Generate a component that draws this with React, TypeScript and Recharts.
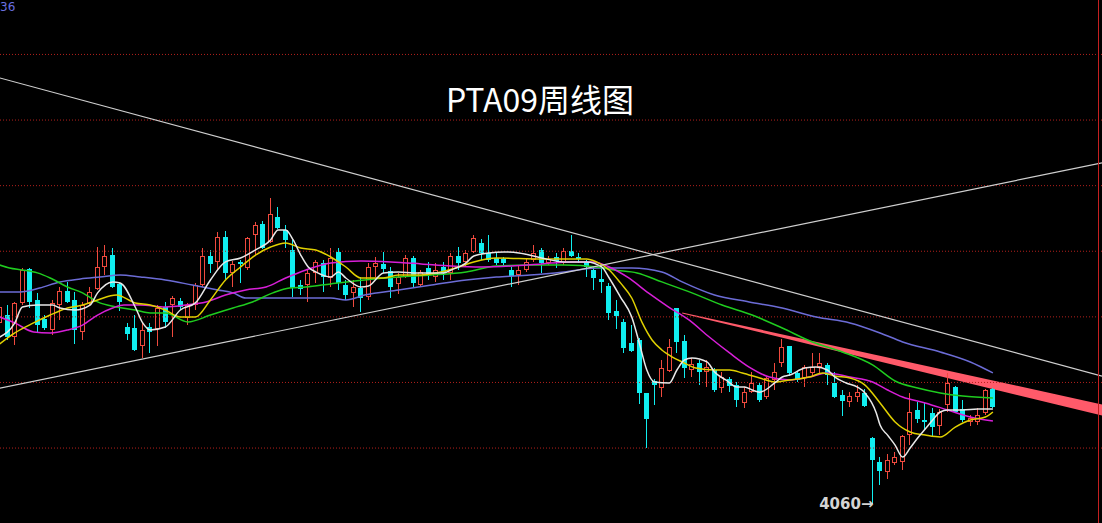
import { Area, Bar, ComposedChart, Line, ReferenceDot, ReferenceLine, XAxis, YAxis } from "recharts";

// weekly candles, PTA09 (oldest first)
const opens = [
  5163, 5211, 5077, 5285, 5492, 5303, 5187, 5120, 5272, 5358, 5303, 5108, 5279, 5370, 5504, 5577, 5401, 5138, 5132, 5022,
  5138, 5126, 5260, 5272, 5297, 5193, 5272, 5394, 5571, 5535, 5687, 5468, 5535, 5498, 5700, 5767, 5657, 5809, 5730, 5608,
  5394, 5394, 5468, 5529, 5437, 5596, 5394, 5346, 5376, 5321, 5504, 5523, 5480, 5401, 5443, 5559, 5394, 5498, 5443, 5504,
  5468, 5571, 5535, 5596, 5651, 5590, 5559, 5553, 5486, 5455, 5486, 5547, 5608, 5529, 5565, 5529, 5602, 5565, 5535, 5486,
  5431, 5388, 5236, 5169, 5041, 5059, 4736, 4809, 4766, 4870, 5254, 5053, 4876, 4919, 4864, 4876, 4766, 4821, 4784, 4675,
  4741, 4784, 4711, 4815, 4919, 5022, 4858, 4827, 4858, 4894, 4907, 4797, 4723, 4681, 4711, 4736, 4461, 4315, 4254, 4309,
  4315, 4479, 4632, 4571, 4614, 4534, 4662, 4772, 4638, 4559, 4559, 4614, 4760,
];
const highs = [
  5285, 5272, 5291, 5498, 5498, 5346, 5211, 5303, 5382, 5413, 5352, 5291, 5382, 5626, 5638, 5620, 5407, 5163, 5211, 5169,
  5163, 5272, 5291, 5327, 5315, 5285, 5407, 5620, 5608, 5718, 5724, 5541, 5547, 5687, 5779, 5785, 5925, 5870, 5760, 5669,
  5425, 5486, 5547, 5547, 5620, 5620, 5425, 5425, 5443, 5529, 5565, 5596, 5504, 5468, 5577, 5571, 5486, 5535, 5529, 5535,
  5590, 5626, 5608, 5700, 5675, 5700, 5590, 5565, 5504, 5516, 5559, 5638, 5620, 5571, 5590, 5620, 5700, 5590, 5547, 5504,
  5498, 5407, 5303, 5187, 5150, 5071, 4736, 4821, 4937, 5065, 5254, 5089, 4949, 4937, 4937, 4888, 4864, 4833, 4803, 4772,
  4864, 4797, 4833, 4919, 5065, 5022, 4864, 4907, 4980, 4980, 4919, 4864, 4754, 4741, 4784, 4760, 4467, 4345, 4364, 4376,
  4479, 4736, 4681, 4675, 4644, 4638, 4858, 4778, 4693, 4602, 4644, 4760, 4766,
];
const lows = [
  5132, 5059, 5028, 5272, 5254, 5102, 5120, 5089, 5181, 5285, 5035, 5059, 5272, 5364, 5455, 5376, 5236, 5059, 4992, 4949,
  4980, 5022, 5132, 5077, 5242, 5150, 5242, 5382, 5468, 5486, 5431, 5382, 5407, 5486, 5577, 5614, 5651, 5736, 5620, 5321,
  5333, 5291, 5407, 5352, 5382, 5364, 5303, 5260, 5230, 5303, 5443, 5468, 5315, 5340, 5437, 5382, 5382, 5425, 5413, 5425,
  5425, 5486, 5504, 5590, 5547, 5535, 5516, 5504, 5382, 5394, 5474, 5535, 5468, 5516, 5498, 5516, 5565, 5529, 5443, 5364,
  5346, 5181, 5126, 4980, 4986, 4669, 4400, 4662, 4711, 4864, 4980, 4827, 4833, 4784, 4772, 4741, 4736, 4741, 4650, 4644,
  4736, 4681, 4699, 4754, 4894, 4839, 4803, 4772, 4833, 4858, 4784, 4705, 4595, 4650, 4681, 4650, 4060, 4175, 4211, 4296,
  4266, 4418, 4553, 4516, 4467, 4479, 4620, 4614, 4559, 4534, 4540, 4602, 4644,
];
const closes = [
  5260, 5077, 5285, 5486, 5291, 5150, 5132, 5285, 5358, 5291, 5120, 5272, 5352, 5504, 5571, 5382, 5291, 5096, 4998, 5120,
  5108, 5254, 5169, 5315, 5260, 5272, 5394, 5571, 5523, 5687, 5468, 5523, 5523, 5681, 5760, 5620, 5828, 5742, 5669, 5376,
  5370, 5468, 5535, 5443, 5559, 5407, 5333, 5382, 5315, 5504, 5529, 5492, 5382, 5443, 5559, 5407, 5474, 5462, 5486, 5468,
  5571, 5529, 5590, 5681, 5590, 5547, 5529, 5529, 5449, 5486, 5535, 5590, 5529, 5553, 5541, 5602, 5571, 5553, 5504, 5437,
  5413, 5224, 5205, 5010, 4992, 4736, 4577, 4784, 4888, 5016, 5047, 4888, 4913, 4864, 4894, 4754, 4833, 4778, 4693, 4741,
  4797, 4693, 4827, 4864, 5016, 4858, 4815, 4894, 4894, 4919, 4845, 4711, 4687, 4717, 4741, 4656, 4327, 4260, 4327, 4345,
  4473, 4620, 4577, 4559, 4528, 4620, 4797, 4620, 4571, 4583, 4602, 4754, 4650,
];

// moving averages, [week index, price] sampled along each curve
const ma5: [number, number][] = [
  [0, 5077], [2, 5163], [3, 5260], [5, 5272], [7, 5272], [8, 5254], [10, 5242], [12, 5272], [13, 5346], [15, 5413],
  [16, 5407], [18, 5260], [19, 5163], [20, 5120], [22, 5138], [24, 5242], [26, 5285], [28, 5425], [30, 5535], [32, 5559],
  [34, 5608], [36, 5669], [37, 5730], [38, 5730], [39, 5669], [40, 5577], [41, 5504], [42, 5474], [44, 5443], [45, 5474],
  [46, 5437], [48, 5382], [49, 5388], [51, 5468], [53, 5474], [55, 5468], [57, 5468], [59, 5468], [60, 5486], [62, 5529],
  [63, 5571], [65, 5590], [67, 5596], [69, 5590], [72, 5559], [75, 5535], [78, 5535], [80, 5504], [81, 5437], [82.5, 5321],
  [84, 5199], [85, 5041], [86, 4876], [87, 4803], [89, 4797], [90, 4876], [91, 4937], [92, 4949], [94, 4925], [95, 4864],
  [96.5, 4815], [98, 4772], [99, 4772], [100, 4754], [101, 4741], [103, 4797], [104, 4833], [105, 4845], [107, 4888],
  [108.5, 4894], [110, 4876], [111, 4833], [112.5, 4797], [114, 4772], [115, 4736], [116.5, 4614], [117, 4540], [118, 4479],
  [119, 4418], [120, 4345], [121, 4400], [122, 4461], [123, 4516], [124, 4571], [125, 4620], [126, 4632], [128, 4632],
  [130, 4638], [132, 4638],
];
const ma10: [number, number][] = [
  [0, 5035], [2, 5102], [4.5, 5163], [6.7, 5211], [9, 5254], [11, 5272], [13, 5303], [15.5, 5333], [18, 5285], [20, 5272],
  [22, 5242], [24, 5199], [26, 5199], [28, 5303], [30, 5425], [32, 5504], [34, 5577], [36, 5626], [38, 5651], [40, 5620],
  [42, 5608], [44, 5565], [46, 5504], [48, 5437], [51, 5437], [53, 5455], [55.6, 5455], [58, 5468], [61, 5504], [63, 5535],
  [66, 5559], [72, 5553], [78, 5553], [79.3, 5535], [81, 5486], [82.5, 5407], [84, 5315], [85.4, 5163], [86.7, 5059],
  [88, 4998], [89.4, 4955], [90.7, 4925], [92.5, 4888], [95, 4876], [97, 4876], [98.7, 4858], [101, 4827], [103, 4803],
  [105, 4815], [107.6, 4833], [109.4, 4858], [111, 4839], [113, 4827], [115, 4784], [117, 4675], [119, 4559], [121, 4498],
  [123, 4479], [125, 4467], [127, 4528], [129, 4571], [131, 4589], [132, 4620],
];
const ma20: [number, number][] = [
  [0, 5199], [2, 5163], [4.5, 5108], [6.7, 5102], [9, 5120], [11, 5150], [13, 5211], [15, 5254], [16.5, 5272], [18.7, 5272],
  [22, 5260], [24.7, 5272], [27.4, 5291], [30, 5333], [32.7, 5364], [35.4, 5382], [38, 5437], [40.7, 5486], [44, 5529],
  [48, 5541], [52, 5535], [56, 5523], [60, 5510], [64, 5504], [68, 5510], [72, 5523], [76, 5535], [79, 5535], [81, 5504],
  [83.6, 5437], [86.2, 5346], [88.9, 5260], [91.6, 5181], [94.3, 5077], [97, 4980], [99.6, 4894], [102.3, 4833], [105, 4815],
  [107.6, 4833], [110, 4858], [113, 4833], [116, 4803], [118, 4754], [120, 4711], [123, 4675], [126, 4632], [129, 4589],
  [132, 4565],
];
const ma40: [number, number][] = [
  [0, 5516], [1.3, 5498], [3, 5486], [5, 5468], [6.7, 5437], [9, 5382], [11, 5346], [13, 5291], [15.5, 5260], [18, 5242],
  [20, 5224], [22, 5224], [25, 5169], [28, 5211], [31, 5254], [33.6, 5291], [36.3, 5346], [38.5, 5376], [40.7, 5382],
  [44, 5401], [48.5, 5425], [53, 5443], [57.4, 5455], [62, 5474], [66, 5510], [70.5, 5516], [75, 5516], [79.4, 5504],
  [81.6, 5486], [84.7, 5468], [88, 5413], [92, 5346], [96, 5272], [100, 5211], [104, 5132], [108, 5047], [112, 4986],
  [116, 4907], [119, 4809], [122, 4766], [125, 4736], [128, 4717], [132, 4705],
];
const ma60: [number, number][] = [
  [0, 5352], [2.7, 5352], [5.3, 5376], [8, 5413], [10.7, 5431], [13.3, 5443], [16, 5455], [18.7, 5443], [22, 5425],
  [25.6, 5394], [29, 5364], [31, 5346], [32.7, 5315], [35.4, 5315], [39.8, 5315], [44, 5315], [46, 5303], [48.5, 5333],
  [53, 5364], [57.4, 5394], [62, 5425], [66, 5443], [70.5, 5455], [75, 5474], [79.4, 5498], [84, 5498], [88, 5474],
  [90.7, 5413], [95, 5333], [99.6, 5291], [104, 5254], [108.5, 5199], [113, 5163], [117, 5102], [120, 5047], [125, 4986],
  [129, 4925], [132, 4858],
];

// hand-drawn trend lines, [slot position, price]
const fallingLine: [number, number][] = [[0, 6663], [147, 4839]];
const risingLine: [number, number][] = [[0, 4760], [147, 6139]];
// thick pressure line that widens to the right: [slot position, lower, upper]
const pressureBand: [number, number, number][] = [[91.2, 5221, 5227], [147, 4598, 4666]];

const gridTicks = [4400, 4800, 5200, 5600, 6000, 6400, 6800];
const priceDomain: [number, number] = [3943, 7132];
const slotCount = 147;
const lowMark = { week: 116, price: 4060, text: "4060→" };

const RED = "#f04a3e";
const CYAN = "#10eef0";
const GRID = "#b3201c";

const rows = Array.from({ length: slotCount }, (_, i) =>
  i < opens.length ? { i, o: opens[i], h: highs[i], l: lows[i], c: closes[i] } : { i }
);
const toPts = (arr: [number, number][]) => arr.map(([k, v]) => ({ x: k + 0.5, v }));
const bandPts = pressureBand.map(([x, lo, hi]) => ({ x, r: [lo, hi] }));
const seg = (arr: [number, number][]) => arr.map(([x, y]) => ({ x, y }));

function Candle(props: any) {
  const { x, y, width, height, payload } = props;
  if (!payload || payload.h == null || x == null) return null;
  const { o, h, l, c } = payload;
  const top = Math.min(y, y + height);
  const span = Math.abs(height);
  const py = (v: number) => top + ((h - v) / (h - l || 1)) * span;
  const up = c >= o;
  const color = up ? RED : CYAN;
  const left = Math.round(x + width / 2 - 2.5);
  const mid = left + 2.5;
  const bt = Math.round(py(Math.max(o, c)));
  const bb = Math.max(bt + 1, Math.round(py(Math.min(o, c))));
  const hy = Math.round(py(h));
  const ly = Math.round(py(l));
  if (up) {
    return (
      <g>
        <line x1={mid} x2={mid} y1={hy} y2={bt} stroke={color} strokeWidth={1} />
        <line x1={mid} x2={mid} y1={bb} y2={ly} stroke={color} strokeWidth={1} />
        <rect x={left + 0.5} y={bt + 0.5} width={4} height={Math.max(1, bb - bt - 1)} fill="#000" stroke={color} strokeWidth={1} />
      </g>
    );
  }
  return (
    <g>
      <line x1={mid} x2={mid} y1={hy} y2={ly} stroke={color} strokeWidth={1} />
      <rect x={left} y={bt} width={5} height={Math.max(1, bb - bt)} fill={color} />
    </g>
  );
}

function LowLabel(props: any) {
  const vb = props.viewBox || {};
  const cx = (vb.x ?? 0) + (vb.width ?? 0) / 2;
  const cy = (vb.y ?? 0) + (vb.height ?? 0) / 2;
  return (
    <text x={cx + 1} y={cy + 5} textAnchor="end" fill="#d4d4d4" fontSize={15} fontWeight="bold" fontFamily="DejaVu Sans, sans-serif">
      {lowMark.text}
    </text>
  );
}

export default function App() {
  return (
    <div style={{ position: "absolute", left: 0, top: 0, width: 1102, height: 523, background: "#000", overflow: "hidden", fontFamily: "'Noto Sans', sans-serif" }}>
      <ComposedChart width={1102} height={523} data={rows} margin={{ top: 0, right: 0, bottom: 0, left: -4 }}>
        <XAxis dataKey="i" type="category" hide />
        <XAxis xAxisId="n" dataKey="x" type="number" domain={[0, slotCount]} hide allowDataOverflow />
        <YAxis orientation="right" width={3} domain={priceDomain} allowDataOverflow hide />
        {gridTicks.map((t) => (
          <ReferenceLine key={t} y={t} stroke={GRID} strokeWidth={1} strokeDasharray="1 2" />
        ))}
        <Line xAxisId="n" data={toPts(ma60)} dataKey="v" type="monotone" stroke="#6c6cd6" strokeWidth={1.5} dot={false} isAnimationActive={false} />
        <Line xAxisId="n" data={toPts(ma40)} dataKey="v" type="monotone" stroke="#1fcc1f" strokeWidth={1.5} dot={false} isAnimationActive={false} />
        <Line xAxisId="n" data={toPts(ma20)} dataKey="v" type="monotone" stroke="#d81fd8" strokeWidth={1.5} dot={false} isAnimationActive={false} />
        <Line xAxisId="n" data={toPts(ma10)} dataKey="v" type="monotone" stroke="#e0d000" strokeWidth={1.5} dot={false} isAnimationActive={false} />
        <Line xAxisId="n" data={toPts(ma5)} dataKey="v" type="monotone" stroke="#e8e8e8" strokeWidth={1.5} dot={false} isAnimationActive={false} />
        <Bar
          dataKey={(d: any) => (d.h == null ? null : [d.l, d.h])}
          barSize={5}
          shape={(p: any) => <Candle {...p} />}
          isAnimationActive={false}
        />
        <ReferenceLine xAxisId="n" segment={seg(fallingLine)} stroke="#cfcfcf" strokeWidth={1.2} />
        <ReferenceLine xAxisId="n" segment={seg(risingLine)} stroke="#cfcfcf" strokeWidth={1.2} />
        <Area xAxisId="n" data={bandPts} dataKey="r" type="linear" stroke="none" fill="#ff5a6a" fillOpacity={1} isAnimationActive={false} />
        <ReferenceDot xAxisId="n" x={lowMark.week + 0.5} y={lowMark.price} r={0} fill="none" stroke="none" label={<LowLabel />} />
      </ComposedChart>
      {/* right price-axis edge */}
      <div style={{ position: "absolute", left: 1098, top: 0, width: 1, height: 523, background: "#c42020" }} />
      <div style={{ position: "absolute", left: 0, top: 0, fontSize: 12, lineHeight: "14px", color: "#6a70e0", fontFamily: "DejaVu Sans, sans-serif" }}>36</div>
      <div
        style={{
          position: "absolute",
          left: 0,
          width: 1080,
          top: 80,
          textAlign: "center",
          fontSize: 32,
          lineHeight: "36px",
          color: "#fff",
          fontFamily: "'Noto Sans CJK SC', 'Noto Sans', sans-serif",
        }}
      >
        PTA09周线图
      </div>
    </div>
  );
}
